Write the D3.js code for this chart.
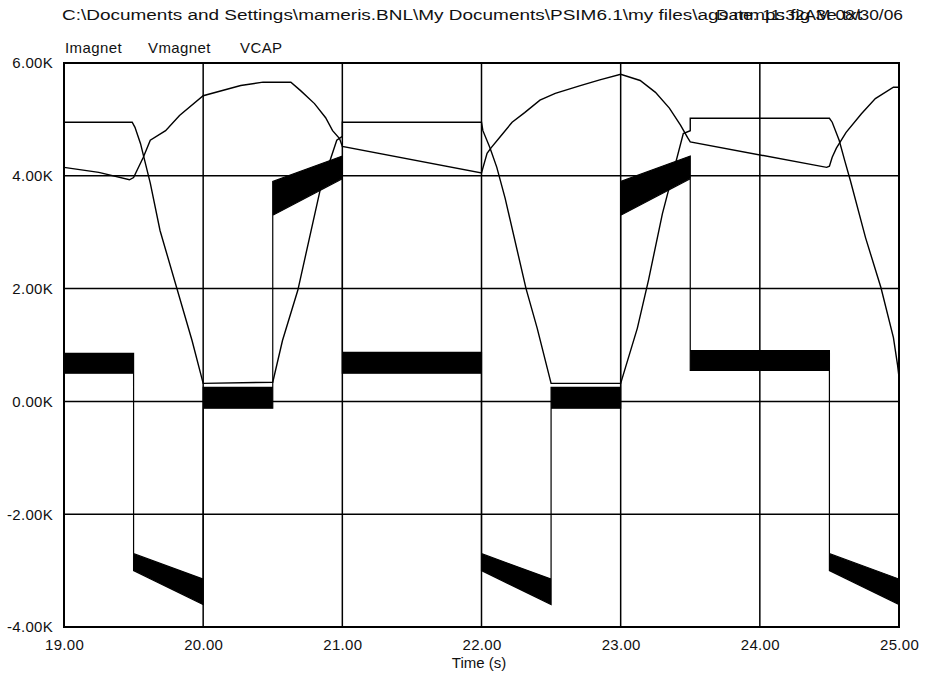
<!DOCTYPE html>
<html>
<head>
<meta charset="utf-8">
<script src="https://cdn.jsdelivr.net/npm/d3@7"></script>
<style>
  html, body { margin: 0; padding: 0; background: #fff; }
  svg { display: block; }
  text { font-family: "Liberation Sans", Arial, sans-serif; fill: #111; }
</style>
</head>
<body>
<svg id="chart" width="925" height="678"></svg>
<script>
// ---------- data ----------
const titlePath = "C:\\Documents and Settings\\mameris.BNL\\My Documents\\PSIM6.1\\my files\\ags mmps fig 3e.txt";
const titleDate = "Date: 11:32AM 08/30/06";
const seriesNames = ["Imagnet", "Vmagnet", "VCAP"];
const xTicks = [19, 20, 21, 22, 23, 24, 25];
const yTicks = [-4, -2, 0, 2, 4, 6];
const xLabel = "Time (s)";

// Imagnet (trapezoid), kA
const imagT = [19.0, 19.49, 19.51, 19.55, 19.58, 19.62, 19.69, 19.92, 20.0, 20.5, 20.57, 20.68, 20.84, 20.96, 21.0, 21.0,
               22.0, 22.01, 22.06, 22.11, 22.17, 22.32, 22.4, 22.5, 23.0, 23.12, 23.2, 23.3, 23.45, 23.5, 23.5,
               24.5, 24.52, 24.57, 24.61, 24.65, 24.76, 24.87, 24.96, 24.99, 25.0];
const imagV = [4.95, 4.95, 4.86, 4.57, 4.27, 3.87, 3.03, 1.08, 0.32, 0.34, 1.08, 1.97, 3.74, 4.63, 4.7, 4.95,
               4.95, 4.8, 4.5, 4.15, 3.6, 2.0, 1.3, 0.32, 0.32, 1.3, 2.15, 3.33, 4.75, 4.8, 5.02,
               5.02, 4.95, 4.63, 4.27, 3.92, 2.9, 2.02, 1.13, 0.64, 0.43];

// VCAP (dome / sawtooth), kV
const vcapT = [19.0, 19.25, 19.47, 19.5, 19.57, 19.62, 19.73, 19.83, 20.0, 20.27, 20.43, 20.63, 20.7, 20.8, 20.88, 20.93, 20.98, 21.0,
               22.0, 22.04, 22.07, 22.13, 22.22, 22.31, 22.42, 22.53, 22.71, 22.85, 23.0, 23.14, 23.25, 23.35, 23.43, 23.48, 23.5,
               24.48, 24.5, 24.52, 24.55, 24.62, 24.73, 24.83, 24.96, 25.0];
const vcapV = [4.15, 4.06, 3.93, 3.97, 4.33, 4.63, 4.8, 5.07, 5.42, 5.6, 5.66, 5.66, 5.51, 5.28, 5.03, 4.8, 4.66, 4.52,
               4.05, 4.4, 4.5, 4.68, 4.95, 5.12, 5.34, 5.46, 5.6, 5.7, 5.8, 5.69, 5.48, 5.2, 4.9, 4.68, 4.6,
               4.15, 4.17, 4.33, 4.49, 4.77, 5.1, 5.37, 5.57, 5.57];

// Vmagnet (noisy switching waveform) – upper / lower envelope of the noise band, kV
const vmagT  = [19.0, 19.5, 19.5, 20.0, 20.0, 20.5, 20.5, 21.0, 21.0, 22.0, 22.0, 22.5, 22.5, 23.0, 23.0, 23.5, 23.5, 24.5, 24.5, 25.0];
const vmagHi = [0.85, 0.85, -2.7, -3.15, 0.25, 0.25, 3.9, 4.35, 0.87, 0.87, -2.7, -3.15, 0.25, 0.25, 3.9, 4.35, 0.9, 0.9, -2.7, -3.15];
const vmagLo = [0.5, 0.5, -3.0, -3.6, -0.12, -0.12, 3.3, 3.95, 0.5, 0.5, -3.0, -3.6, -0.12, -0.12, 3.3, 3.95, 0.55, 0.55, -3.0, -3.6];

// ---------- layout ----------
const svg = d3.select("#chart");
const L = 64, R = 899, T = 63, B = 627;
const x = d3.scaleLinear().domain([19, 25]).range([L, R]);
const y = d3.scaleLinear().domain([-4, 6]).range([B, T]);

// title (two overlapping strings like the reference)
svg.append("text").attr("x", 62).attr("y", 20).attr("font-size", 14)
  .attr("textLength", 800).attr("lengthAdjust", "spacingAndGlyphs").text(titlePath);
svg.append("text").attr("x", 716).attr("y", 20).attr("font-size", 14)
  .attr("textLength", 187).attr("lengthAdjust", "spacingAndGlyphs").text(titleDate);

// legend labels
const legX = [65, 148, 240];
svg.selectAll("text.leg").data(seriesNames).join("text")
  .attr("class", "leg").attr("x", (d, i) => legX[i]).attr("y", 53)
  .attr("font-size", 15).attr("letter-spacing", 0.4).text(d => d);

// grid
const g = svg.append("g");
g.selectAll("line.gx").data(xTicks).join("line")
  .attr("x1", d => x(d)).attr("x2", d => x(d)).attr("y1", T).attr("y2", B)
  .attr("stroke", "#000").attr("stroke-width", 1.5);
g.selectAll("line.gy").data(yTicks).join("line")
  .attr("x1", L).attr("x2", R).attr("y1", d => y(d)).attr("y2", d => y(d))
  .attr("stroke", "#000").attr("stroke-width", 1.5);

// axes (labels)
const ax = svg.append("g").attr("transform", `translate(0,${B})`)
  .call(d3.axisBottom(x).tickValues(xTicks).tickSize(0).tickPadding(12).tickFormat(d => d.toFixed(2)));
const ay = svg.append("g").attr("transform", `translate(${L},0)`)
  .call(d3.axisLeft(y).tickValues(yTicks).tickSize(0).tickPadding(11).tickFormat(d => d.toFixed(2) + "K"));
[ax, ay].forEach(a => {
  a.select(".domain").remove();
  a.selectAll("text").attr("font-size", 15).attr("letter-spacing", 0.3)
    .style("font-family", '"Liberation Sans", Arial, sans-serif').attr("fill", "#111");
});

svg.append("text").attr("x", 479).attr("y", 668).attr("text-anchor", "middle")
  .attr("font-size", 15).text(xLabel);

// series
const plot = svg.append("g");
const vmag = vmagT.map((t, i) => ({ t, hi: vmagHi[i], lo: vmagLo[i] }));
plot.append("path").datum(vmag)
  .attr("d", d3.area().x(d => x(d.t)).y0(d => y(d.lo)).y1(d => y(d.hi)))
  .attr("fill", "#000").attr("stroke", "#000").attr("stroke-width", 1.2);

const line = d3.line().x(d => x(d[0])).y(d => y(d[1]));
plot.append("path").datum(imagT.map((t, i) => [t, imagV[i]]))
  .attr("d", line).attr("fill", "none").attr("stroke", "#000").attr("stroke-width", 1.4);
plot.append("path").datum(vcapT.map((t, i) => [t, vcapV[i]]))
  .attr("d", line).attr("fill", "none").attr("stroke", "#000").attr("stroke-width", 1.4);

// frame
svg.append("rect").attr("x", L).attr("y", T).attr("width", R - L).attr("height", B - T)
  .attr("fill", "none").attr("stroke", "#000").attr("stroke-width", 2);
</script>
</body>
</html>
